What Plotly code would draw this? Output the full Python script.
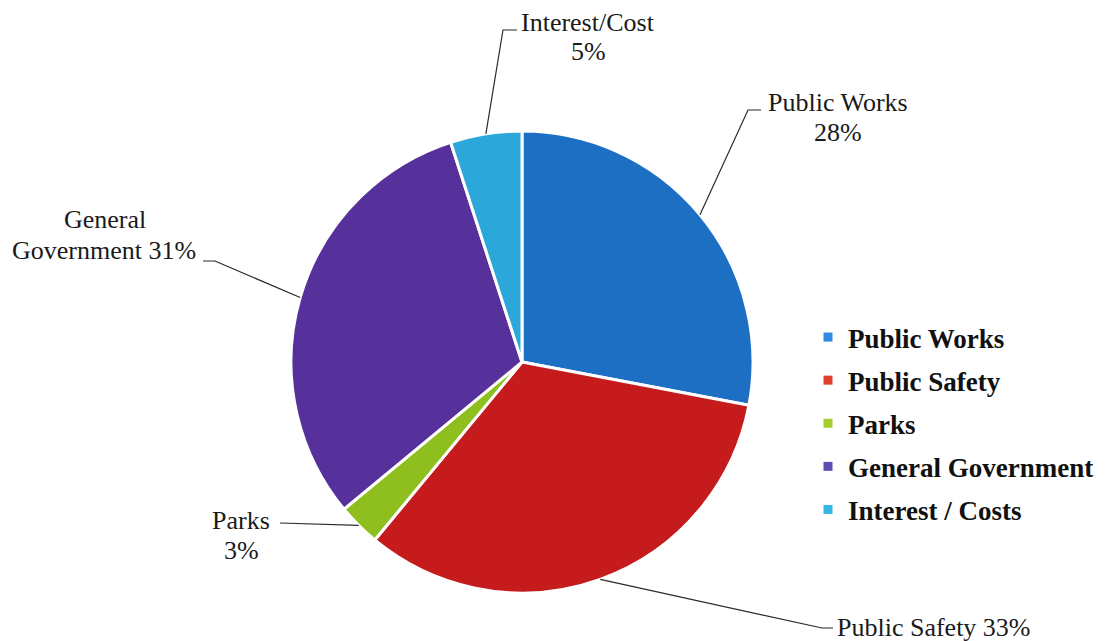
import math
import plotly.graph_objects as go

# ---- data ----
categories = ["Public Works", "Public Safety", "Parks", "General Government", "Interest / Costs"]
values = [28, 33, 3, 31, 5]
label_names = ["Public Works", "Public Safety", "Parks", "General", "Interest/Cost"]
pie_colors = ["#1c6fc3", "#c61b1d", "#8fbe1f", "#56319b", "#2ca7d9"]
legend_colors = ["#2f8ae0", "#e0402c", "#a8cd2e", "#5e4db2", "#36b7e6"]

W, H = 1107, 641
CX, CY, R = 522, 362, 231


def px(x, y):
    return x / W, 1 - y / H


fig = go.Figure()
fig.add_trace(go.Pie(
    labels=categories, values=values, sort=False, direction="clockwise", rotation=0,
    marker=dict(colors=pie_colors, line=dict(color="white", width=3)),
    textinfo="none", showlegend=False,
    domain=dict(x=[(CX - R) / W, (CX + R) / W], y=[1 - (CY + R) / H, 1 - (CY - R) / H]),
))

# legend entries
for i, (cat, col) in enumerate(zip(categories, legend_colors)):
    fig.add_trace(go.Scatter(x=[None], y=[None], mode="markers", name=cat, legendgroup=str(i),
                             marker=dict(symbol="square", size=9, color=col), showlegend=True))

# label layout (positions only)
label_layout = [
    # (text lines, line centers (x, y) in px, elbow points)
    (["Public Works", "{}%"], [(838, 103), (838, 132)], [(748, 110), (761, 110)]),
    (["Public Safety {}%"], [(934, 627)], [(822, 628), (833, 628)]),
    (["Parks", "{}%"], [(241, 520), (241, 550)], [(280, 523)]),
    (["General", "Government {}%"], [(105, 220), (104, 250)], [(215, 261), (203, 261)]),
    (["Interest/Cost", "{}%"], [(588, 22), (588, 51)], [(503, 30), (517, 30)]),
]

total = sum(values)
cum = 0
annotations = []
shapes = []
for v, (lines, centers, elbows) in zip(values, label_layout):
    mid = (cum + v / 2) / total * 2 * math.pi
    cum += v
    ex, ey = CX + R * math.sin(mid), CY - R * math.cos(mid)
    pts = [(ex, ey)] + elbows
    path = "M " + " L ".join("{:.5f},{:.5f}".format(*px(x, y)) for x, y in pts)
    shapes.append(dict(type="path", path=path, xref="paper", yref="paper",
                       line=dict(color="#2a2a2a", width=1.2)))
    pct = round(v / total * 100)
    for line, (x, y) in zip(lines, centers):
        ax, ay = px(x, y)
        annotations.append(dict(text=line.format(pct), x=ax, y=ay, xref="paper", yref="paper",
                                showarrow=False, xanchor="center", yanchor="middle",
                                font=dict(family="Liberation Serif", size=26, color="#1a1a1a")))

fig.update_layout(
    width=W, height=H, margin=dict(l=0, r=0, t=0, b=0),
    paper_bgcolor="white", plot_bgcolor="white",
    xaxis=dict(visible=False), yaxis=dict(visible=False),
    annotations=annotations, shapes=shapes,
    legend=dict(x=808 / W, y=1 - 313 / H, xanchor="left", yanchor="top",
                font=dict(family="Liberation Serif", size=27, color="#111111", weight="bold"),
                tracegroupgap=5, bgcolor="rgba(0,0,0,0)"),
)

fig.write_html("out.html")
